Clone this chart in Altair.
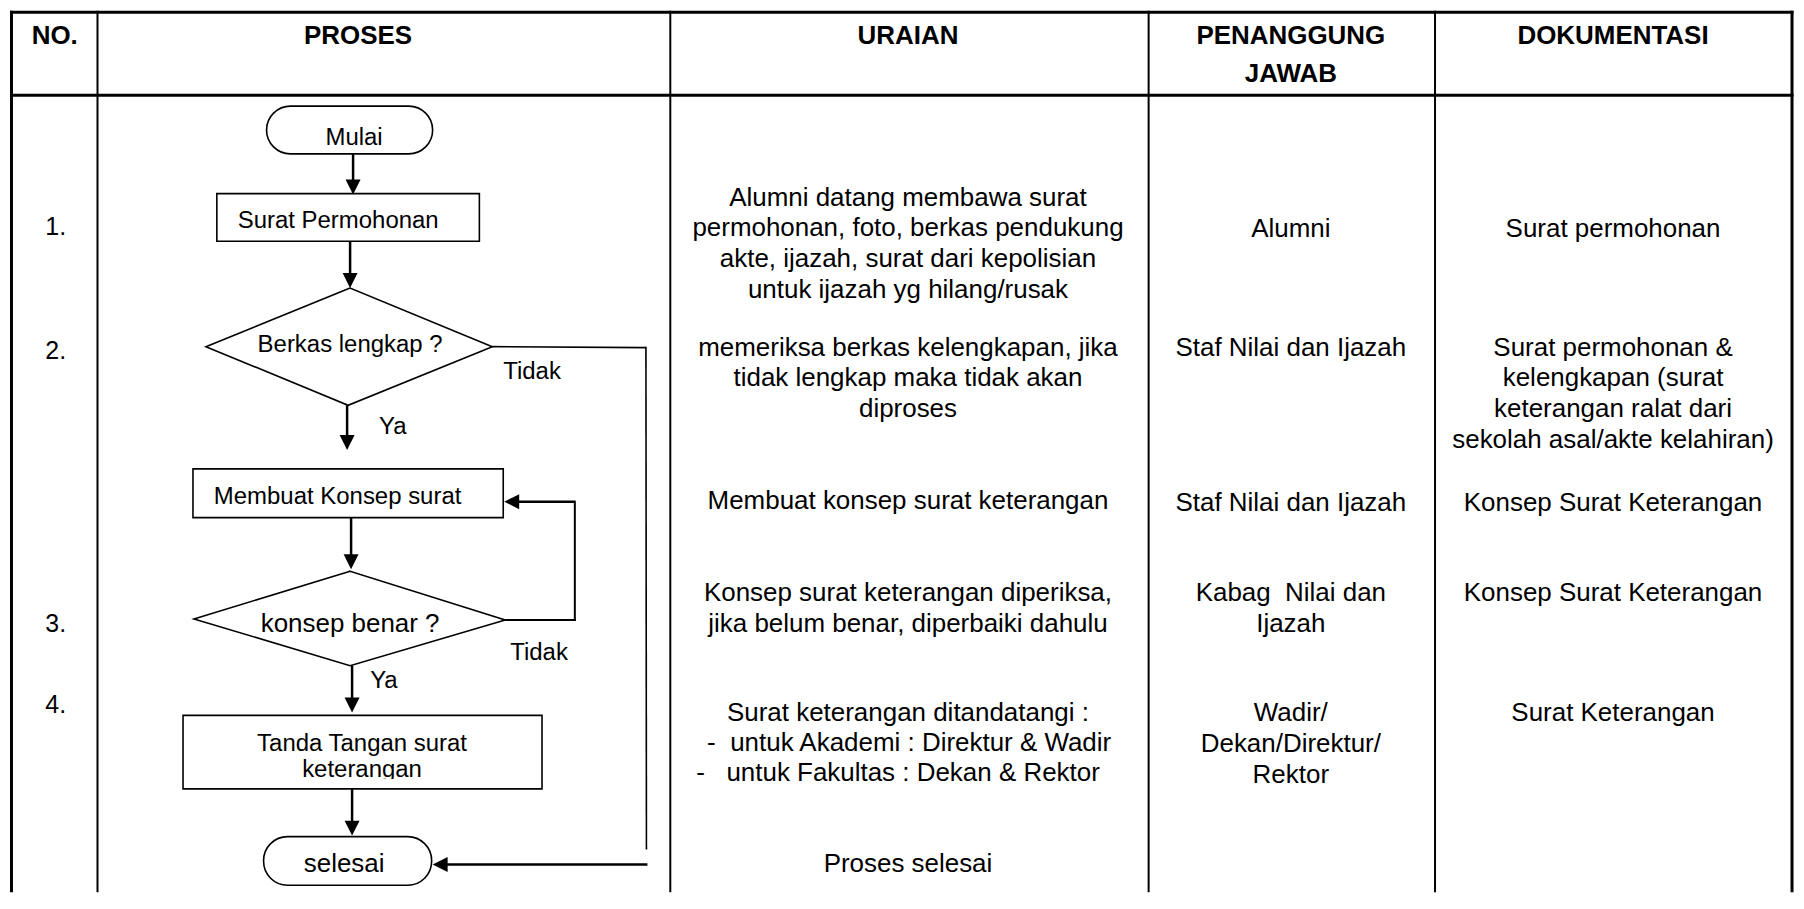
import altair as alt
import pandas as pd

FONT = "Arial, 'Liberation Sans', sans-serif"

# ---------------- text content ----------------
header_labels = ["NO.", "PROSES", "URAIAN", "PENANGGUNG", "JAWAB", "DOKUMENTASI"]
step_numbers = ["1.", "2.", "3.", "4."]

uraian_lines = [
    ["Alumni datang membawa surat", "permohonan, foto, berkas pendukung",
     "akte, ijazah, surat dari kepolisian", "untuk ijazah yg hilang/rusak"],
    ["memeriksa berkas kelengkapan, jika", "tidak lengkap maka tidak akan", "diproses"],
    ["Membuat konsep surat keterangan"],
    ["Konsep surat keterangan diperiksa,", "jika belum benar, diperbaiki dahulu"],
    ["Surat keterangan ditandatangi :"],
    ["Proses selesai"],
]
uraian_items = ["-\u00a0\u00a0untuk Akademi : Direktur & Wadir",
                "-\u00a0\u00a0\u00a0untuk Fakultas : Dekan & Rektor"]

pj_lines = [
    ["Alumni"],
    ["Staf Nilai dan Ijazah"],
    ["Staf Nilai dan Ijazah"],
    ["Kabag\u00a0 Nilai dan", "Ijazah"],
    ["Wadir/", "Dekan/Direktur/", "Rektor"],
]
dok_lines = [
    ["Surat permohonan"],
    ["Surat permohonan &", "kelengkapan (surat", "keterangan ralat dari",
     "sekolah asal/akte kelahiran)"],
    ["Konsep Surat Keterangan"],
    ["Konsep Surat Keterangan"],
    ["Surat Keterangan"],
]

terminal_labels = ["Mulai", "selesai"]
process_labels = [["Surat Permohonan"], ["Membuat Konsep surat"],
                  ["Tanda Tangan surat", "keterangan"]]
decision_labels = ["Berkas lengkap ?", "konsep benar ?"]
branch_labels = ["Tidak", "Ya", "Tidak", "Ya"]

# ---------------- layout (page pixels) ----------------
W, H = 1788, 883
X0, X1 = 8, 1803
Y0, Y1 = 8, 895
BOTTOM = 895

header_x = [53, 358, 911, 1296, 1296, 1620]
header_y = [31, 31, 31, 31, 70, 31]
step_y = [224, 348, 623, 705]
step_x = 54

col_uraian, col_pj, col_dok = 911, 1296, 1620
uraian_y0 = [194, 345, 499, 592, 713, 865]
uraian_items_x = [709, 698]
uraian_items_y = [743, 773]
pj_y0 = [226, 345, 501, 592, 713]
dok_y0 = [226, 345, 501, 592, 713]
LINE_GAP = 31

terminal_boxes = [(266, 104, 433, 152), (263, 839, 432, 888)]
terminal_text = [(354, 134, 24), (344, 865, 26)]
process_boxes = [(216, 192, 480, 240), (192, 469, 504, 518), (182, 717, 543, 791)]
process_text = [("left", 237, [218], 24), ("left", 213, [495], 24),
                ("center", 362, [744, 770], 24)]
decision_pts = [
    [(205, 346), (350, 287), (493, 346), (348, 405)],
    [(193, 620), (350, 572), (506, 621), (350, 667)],
]
decision_text = [(350, 342, 24), (350, 623, 26)]
branch_pos = [(533, 370), (393, 425), (540, 652), (384, 680)]

# table grid lines: x, y, x2, y2, width
grid = [
    (8, 9.5, 1801.5, 9.5, 3),
    (9.5, 8, 9.5, BOTTOM, 3),
    (1800, 8, 1800, BOTTOM, 3),
    (8, 93, 1801.5, 93, 3),
    (96, 8, 96, BOTTOM, 2),
    (672, 8, 672, BOTTOM, 2),
    (1153, 8, 1153, BOTTOM, 2),
    (1441, 8, 1441, BOTTOM, 2),
]
# connector lines (no arrowhead)
connectors = [
    (493, 346, 647.5, 347, 1.6),
    (647.5, 346.2, 648, 852, 1.6),
    (506, 621, 577, 621, 2),
    (576, 622, 576, 501, 2),
]
# arrows: shaft start -> tip, direction
arrows = [
    ((353, 152), (353, 193), "down"),
    ((350, 240), (350, 287), "down"),
    ((347, 405), (347, 450), "down"),
    ((576, 502), (505, 502), "left"),
    ((351, 518), (351, 570), "down"),
    ((352, 667), (352, 714), "down"),
    ((352, 791), (352, 838), "down"),
    ((649, 867), (433, 867), "left"),
]
HEAD = 15
ARROW_SHAPES = {"down": "M0,0 L-1,-2 L1,-2 Z", "left": "M0,0 L2,-1 L2,1 Z"}

# ---------------- build tables ----------------
xs = alt.Scale(domain=[X0, X1], nice=False, zero=False)
ys = alt.Scale(domain=[Y0, Y1], nice=False, zero=False, reverse=True)


def X(f):
    return alt.X(f, type="quantitative", scale=xs, axis=None)


def Y(f):
    return alt.Y(f, type="quantitative", scale=ys, axis=None)


segs = [dict(x=a, y=b, x2=c, y2=d, w=w) for a, b, c, d, w in grid + connectors]
heads = []
for (sx, sy), (tx, ty), d in arrows:
    if d == "down":
        segs.append(dict(x=sx, y=sy, x2=tx, y2=ty - HEAD + 2, w=2.5))
    else:
        segs.append(dict(x=sx, y=sy, x2=tx + HEAD - 2, y2=ty, w=2.5))
    heads.append(dict(x=tx, y=ty, shape=ARROW_SHAPES[d]))
seg_df = pd.DataFrame(segs)
head_df = pd.DataFrame(heads)

term_df = pd.DataFrame([dict(x=a, y=b, x2=c, y2=d) for a, b, c, d in terminal_boxes])
proc_df = pd.DataFrame([dict(x=a, y=b, x2=c, y2=d) for a, b, c, d in process_boxes])

dia_rows = []
for k, pts in enumerate(decision_pts):
    for i, (px, py) in enumerate(pts + [pts[0], pts[1]]):
        dia_rows.append(dict(id=k, i=i, x=px, y=py))
dia_df = pd.DataFrame(dia_rows)

center_rows, left_rows = [], []


def add_cell(lines_list, y0_list, xc, fs, gap=LINE_GAP):
    for lines, y0 in zip(lines_list, y0_list):
        for i, t in enumerate(lines):
            center_rows.append(dict(t=t, x=xc, y=y0 + i * gap, fs=fs))


add_cell(uraian_lines, uraian_y0, col_uraian, 26)
add_cell(pj_lines, pj_y0, col_pj, 26)
add_cell(dok_lines, dok_y0, col_dok, 26)
for t, x, y in zip(uraian_items, uraian_items_x, uraian_items_y):
    left_rows.append(dict(t=t, x=x, y=y, fs=26))
for t, y in zip(step_numbers, step_y):
    center_rows.append(dict(t=t, x=step_x, y=y, fs=25))
for t, (x, y, fs) in zip(terminal_labels, terminal_text):
    center_rows.append(dict(t=t, x=x, y=y, fs=fs))
for lines, (al, x, yl, fs) in zip(process_labels, process_text):
    for t, y in zip(lines, yl):
        (left_rows if al == "left" else center_rows).append(dict(t=t, x=x, y=y, fs=fs))
for t, (x, y, fs) in zip(decision_labels, decision_text):
    center_rows.append(dict(t=t, x=x, y=y, fs=fs))
for t, (x, y) in zip(branch_labels, branch_pos):
    center_rows.append(dict(t=t, x=x, y=y, fs=24))

center_df = pd.DataFrame(center_rows)
left_df = pd.DataFrame(left_rows)
head_txt_df = pd.DataFrame(dict(t=header_labels, x=header_x, y=header_y))
cover_df = pd.DataFrame([dict(x=184, y=781, x2=541, y2=789.6)])

# ---------------- layers ----------------
rules = alt.Chart(seg_df).mark_rule(color="black", strokeCap="butt").encode(
    x=X("x"), y=Y("y"), x2="x2", y2="y2",
    strokeWidth=alt.StrokeWidth("w:Q", scale=None))

procs = alt.Chart(proc_df).mark_rect(fill="white", stroke="black", strokeWidth=1.6).encode(
    x=X("x"), y=Y("y"), x2="x2", y2="y2")
terms = alt.Chart(term_df).mark_rect(fill="white", stroke="black", strokeWidth=1.6,
                                     cornerRadius=24).encode(
    x=X("x"), y=Y("y"), x2="x2", y2="y2")
dias = alt.Chart(dia_df).mark_line(color="black", strokeWidth=1.6, strokeJoin="miter").encode(
    x=X("x"), y=Y("y"), detail="id:N", order="i:Q")
heads_l = alt.Chart(head_df).mark_point(filled=True, color="black", opacity=1,
                                        size=(HEAD / 2) ** 2 * 4, strokeWidth=0).encode(
    x=X("x"), y=Y("y"), shape=alt.Shape("shape:N", scale=None))

txt_c = alt.Chart(center_df).mark_text(font=FONT, align="center", baseline="middle",
                                       color="black", dy=2).encode(
    x=X("x"), y=Y("y"), text="t:N", size=alt.Size("fs:Q", scale=None))
txt_l = alt.Chart(left_df).mark_text(font=FONT, align="left", baseline="middle",
                                     color="black", dy=2).encode(
    x=X("x"), y=Y("y"), text="t:N", size=alt.Size("fs:Q", scale=None))
txt_h = alt.Chart(head_txt_df).mark_text(font=FONT, align="center", baseline="middle",
                                         color="black", fontWeight="bold", fontSize=26,
                                         dy=2).encode(
    x=X("x"), y=Y("y"), text="t:N")
cover = alt.Chart(cover_df).mark_rect(fill="white", strokeWidth=0).encode(
    x=X("x"), y=Y("y"), x2="x2", y2="y2")

chart = alt.layer(rules, procs, terms, dias, heads_l, txt_c, txt_l, txt_h, cover).properties(
    width=W, height=H, padding=0, background="white"
).configure_view(strokeWidth=0)

chart.save("out.html", embed_options={"renderer": "svg", "actions": False})
